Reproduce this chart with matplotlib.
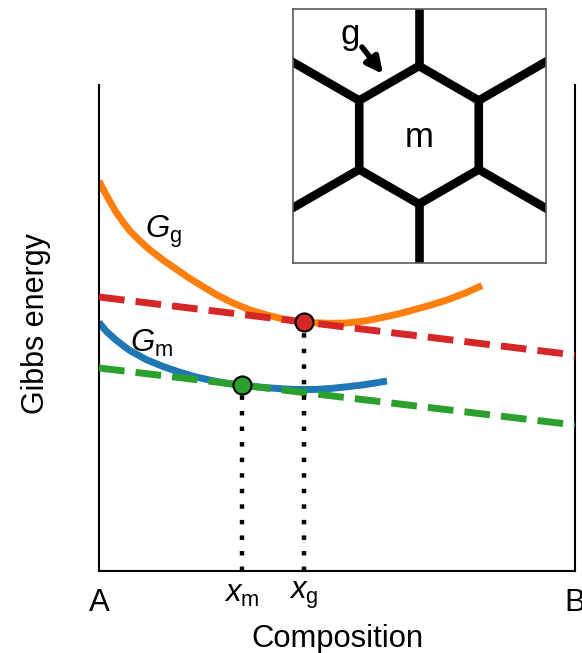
import numpy as np
import matplotlib
matplotlib.use('Agg')
import matplotlib.pyplot as plt

plt.rcParams['font.family'] = ['Liberation Sans', 'DejaVu Sans']
plt.rcParams['mathtext.fontset'] = 'custom'
plt.rcParams['mathtext.rm'] = 'Liberation Sans'
plt.rcParams['mathtext.it'] = 'Liberation Sans:italic'

# free energy curves, composition 0 (A) .. 1 (B), energy in arbitrary units
comp_g = [0.0, 0.0063, 0.0210, 0.0357, 0.0504, 0.0651, 0.0861, 0.1071, 0.1345,
          0.1618, 0.1891, 0.2164, 0.2479, 0.2815, 0.3172, 0.3529, 0.3866, 0.4223,
          0.4538, 0.4853, 0.5210, 0.5588, 0.5903, 0.6261, 0.6597, 0.6954, 0.7311,
          0.7689, 0.8046]
energy_g = [0.8025, 0.7901, 0.7634, 0.7387, 0.7181, 0.6996, 0.6790, 0.6605, 0.6399,
            0.6214, 0.6029, 0.5864, 0.5679, 0.5514, 0.5370, 0.5267, 0.5185, 0.5134,
            0.5107, 0.5097, 0.5103, 0.5144, 0.5206, 0.5282, 0.5370, 0.5467, 0.5576,
            0.5716, 0.5874]

comp_m = [0.0, 0.0042, 0.0147, 0.0357, 0.0630, 0.0987, 0.1345, 0.1681, 0.2038,
          0.2395, 0.2710, 0.3004, 0.3424, 0.3803, 0.4118, 0.4538, 0.4853, 0.5168,
          0.5525, 0.5798, 0.6050]
energy_m = [0.5123, 0.5062, 0.4938, 0.4753, 0.4547, 0.4352, 0.4208, 0.4095, 0.3992,
            0.3914, 0.3858, 0.3823, 0.3780, 0.3751, 0.3735, 0.3735, 0.3755, 0.3786,
            0.3827, 0.3868, 0.3909]

# common tangents (energy at A and at B)
tangent_g = [0.5638, 0.4444]
tangent_m = [0.4177, 0.3004]

# equilibrium compositions
x_g, x_m = 0.4307, 0.3004
G_at_xg, G_at_xm = 0.5123, 0.3827

tick_pos = [0.0, x_m, x_g, 1.0]
tick_labels = ['A', r'$x_\mathrm{m}$', r'$x_\mathrm{g}$', 'B']

fig = plt.figure(figsize=(5.82, 6.53), dpi=100)
ax = fig.add_axes([99 / 582, 82 / 653, 476 / 582, 486 / 653])

ax.plot(comp_g, energy_g, color='tab:orange', lw=5, solid_capstyle='butt',
        solid_joinstyle='round', zorder=2)
ax.plot(comp_m, energy_m, color='tab:blue', lw=5, solid_capstyle='butt',
        solid_joinstyle='round', zorder=2)
ax.plot([0, 1], tangent_g, color='tab:red', lw=5, ls='--', zorder=3)
ax.plot([0, 1], tangent_m, color='tab:green', lw=5, ls='--', zorder=3)

for xc, gc in [(x_g, G_at_xg), (x_m, G_at_xm)]:
    ax.plot([xc, xc], [0, gc], color='black', lw=3.2, ls=(0, (1, 2.5)), zorder=4)
ax.plot([x_g], [G_at_xg], 'o', ms=13, mfc='tab:red', mec='black', mew=1.5, zorder=5)
ax.plot([x_m], [G_at_xm], 'o', ms=13, mfc='tab:green', mec='black', mew=1.5, zorder=5)

ax.text(0.097, 0.685, r'$G_\mathrm{g}$', fontsize=22.5, ha='left', va='baseline')
ax.text(0.065, 0.451, r'$G_\mathrm{m}$', fontsize=22.5, ha='left', va='baseline')

ax.set_xlim(0, 1)
ax.set_ylim(0, 1)
ax.set_xticks(tick_pos)
ax.set_xticklabels(tick_labels, fontsize=22.5)
ax.set_yticks([])
ax.tick_params(axis='x', length=0, pad=12)
# composition symbols sit a little higher than the end labels
for t in ax.xaxis.get_major_ticks()[1:3]:
    t.set_pad(6)
ax.spines['top'].set_visible(False)
for s in ['left', 'right', 'bottom']:
    ax.spines[s].set_linewidth(1.5)

ax.set_xlabel('Composition', fontsize=22.3)
ax.set_ylabel('Gibbs energy', fontsize=22)
ax.xaxis.set_label_coords(0.5, -0.11)
ax.yaxis.set_label_coords(-0.1, 0.51)

# inset: grain (m) surrounded by grain boundaries (g)
ax_in = fig.add_axes([293 / 582, 390 / 653, 253 / 582, 254 / 653])
ax_in.set_xlim(0, 253)
ax_in.set_ylim(254, 0)
ax_in.set_xticks([])
ax_in.set_yticks([])
for s in ax_in.spines.values():
    s.set_color('0.35')
    s.set_linewidth(1.2)

cx, cy, R = 126, 126, 69
ang = np.deg2rad(90 + 60 * np.arange(6))
vx = cx + R * np.cos(ang)
vy = cy - R * np.sin(ang)
ax_in.fill(vx, vy, fill=False, ec='black', lw=6.2, joinstyle='miter')
for px, py, a in zip(vx, vy, ang):
    ax_in.plot([px, px + 200 * np.cos(a)], [py, py - 200 * np.sin(a)],
               color='black', lw=6.2, solid_capstyle='projecting')

ax_in.text(126, 138, 'm', fontsize=25, ha='center', va='baseline')
ax_in.text(57, 35, 'g', fontsize=25, ha='center', va='baseline')
ax_in.annotate('', xy=(90, 65), xytext=(69, 38),
               arrowprops=dict(arrowstyle='-|>', lw=4, color='black',
                               mutation_scale=24, shrinkA=0, shrinkB=0))

fig.savefig('out.png', dpi=100)
